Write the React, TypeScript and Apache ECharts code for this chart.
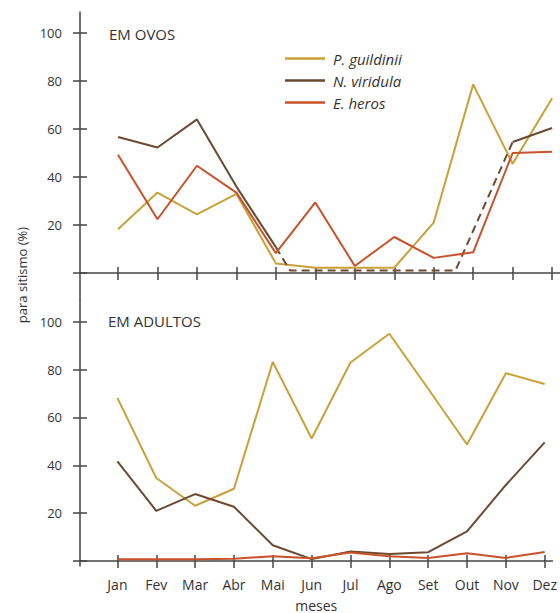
import React, { useEffect, useRef } from "react";
import * as echarts from "echarts";

const months = ["Jan", "Fev", "Mar", "Abr", "Mai", "Jun", "Jul", "Ago", "Set", "Out", "Nov", "Dez"];
const yTicks = [0, 20, 40, 60, 80, 100];
const yLabels = [20, 40, 60, 80, 100];

// EM OVOS
const pgOvos = [18.2, 33.5, 24.4, 33, 4, 2.2, 2.2, 2.2, 21, 78.6, 45.5, 72.8];
const nvOvos = [56.7, 52.3, 64, 36, 10.8, null, null, null, null, null, 54.6, 60.4];
const nvOvosDashX = [4, 4.36, 8.55, 10];
const nvOvosDashY = [10.8, 1, 1, 54.6];
const ehOvos = [49.3, 22.4, 44.7, 33.5, 8.3, 29.4, 2.9, 15, 6.3, 8.6, 50, 50.5];

// EM ADULTOS
const pgAdultos = [68.2, 34.7, 23.1, 30.2, 83.2, 51.2, 83, 95, 72, 48.7, 78.5, 74];
const nvAdultos = [41.7, 21, 28, 22.7, 6.6, 0.8, 4, 2.9, 3.7, 12.4, 31.8, 49.6];
const ehAdultos = [0.8, 0.8, 0.8, 1, 2, 1.2, 3.6, 2, 1.3, 3.3, 1.3, 3.8];

const names = ["P. guildinii", "N. viridula", "E. heros"];
const colors = ["#c9a13a", "#6b4a2f", "#c7522b"];

const FONT = "'Open Sans', 'Noto Sans', sans-serif";
const AXIS = "#444";

const pairs = (vals: (number | null)[]) => vals.map((v, i) => [i, v]);

export default function App() {
  const ref = useRef<HTMLDivElement>(null);
  useEffect(() => {
    document.body.style.margin = "0";
    const chart = echarts.init(ref.current!, null, { renderer: "svg" });
    const monthIdx = months.map((_, i) => i);

    const xAxisBase = (gridIndex: number, showLabels: boolean, inside: boolean) => ({
      type: "value",
      gridIndex,
      position: "bottom",
      min: -0.963,
      max: 11.2,
      axisLine: { show: !inside, onZero: true, lineStyle: { color: AXIS, width: 1.5 } },
      axisTick: {
        show: true,
        inside,
        length: inside ? 6 : 7,
        customValues: monthIdx,
        lineStyle: { color: AXIS, width: 1.5 },
      },
      axisLabel: {
        show: showLabels && !inside,
        customValues: monthIdx,
        formatter: (v: number) => months[Math.round(v)] ?? "",
        color: "#333",
        fontSize: 14,
        fontFamily: FONT,
        margin: 11,
      },
      splitLine: { show: false },
      ...(showLabels && !inside
        ? {
            name: "meses",
            nameLocation: "middle",
            nameGap: 32,
            nameTextStyle: { color: "#333", fontSize: 14, fontFamily: FONT },
          }
        : {}),
    });

    const yAxisBase = (gridIndex: number, min: number, max: number, inside: boolean) => ({
      type: "value",
      gridIndex,
      position: "left",
      min,
      max,
      axisLine: { show: !inside, onZero: false, lineStyle: { color: AXIS, width: 1.5 } },
      axisTick: {
        show: true,
        inside,
        length: 7,
        customValues: yTicks,
        lineStyle: { color: AXIS, width: 1.5 },
      },
      axisLabel: {
        show: !inside,
        customValues: yLabels,
        color: "#333",
        fontSize: 13,
        fontFamily: FONT,
        margin: 18,
      },
      splitLine: { show: false },
    });

    const lineSeries = (name: string, color: string, data: any[], xi: number, yi: number, dashed = false) => ({
      type: "line",
      name,
      data,
      xAxisIndex: xi,
      yAxisIndex: yi,
      symbol: "none",
      connectNulls: false,
      lineStyle: { color, width: 2, type: dashed ? [8, 5] : "solid" },
      itemStyle: { color },
      z: 3,
    });

    chart.setOption({
      animation: false,
      grid: [
        { left: 80, right: 0, top: 12, height: 288 },
        { left: 80, right: 0, top: 300, height: 269 },
      ],
      xAxis: [xAxisBase(0, false, false), xAxisBase(0, false, true), xAxisBase(1, true, false), xAxisBase(1, false, true)],
      yAxis: [
        yAxisBase(0, -11.25, 108.75, false),
        yAxisBase(0, -11.25, 108.75, true),
        yAxisBase(1, -2.07, 109.1, false),
        yAxisBase(1, -2.07, 109.1, true),
      ],
      title: [
        { text: "EM OVOS", left: 109, top: 26, padding: 0, textStyle: { color: "#333", fontSize: 15, fontWeight: "normal", fontFamily: FONT } },
        { text: "EM ADULTOS", left: 108, top: 313, padding: 0, textStyle: { color: "#333", fontSize: 15, fontWeight: "normal", fontFamily: FONT } },
      ],
      legend: {
        data: names,
        orient: "vertical",
        left: 285,
        top: 51,
        padding: 0,
        icon: "path://M0,0H40V2.6H0Z",
        itemWidth: 40,
        itemHeight: 14,
        itemGap: 7,
        textStyle: { color: "#333", fontSize: 15, fontStyle: "italic", fontFamily: FONT, padding: [0, 0, 0, 3] },
      },
      graphic: [
        {
          type: "text",
          x: 22,
          y: 275,
          rotation: Math.PI / 2,
          style: {
            text: "para sitismo (%)",
            fill: "#333",
            fontSize: 13,
            fontFamily: FONT,
            textAlign: "center",
            textVerticalAlign: "middle",
          },
        },
      ],
      series: [
        lineSeries(names[0], colors[0], pairs(pgOvos), 0, 0),
        lineSeries(names[1], colors[1], pairs(nvOvos), 0, 0),
        lineSeries("N. viridula (sem dados)", colors[1], nvOvosDashX.map((x, i) => [x, nvOvosDashY[i]]), 0, 0, true),
        lineSeries(names[2], colors[2], pairs(ehOvos), 0, 0),
        lineSeries(names[0], colors[0], pairs(pgAdultos), 2, 2),
        lineSeries(names[1], colors[1], pairs(nvAdultos), 2, 2),
        lineSeries(names[2], colors[2], pairs(ehAdultos), 2, 2),
      ],
    });
    return () => chart.dispose();
  }, []);
  return <div ref={ref} style={{ width: 560, height: 613 }} />;
}
